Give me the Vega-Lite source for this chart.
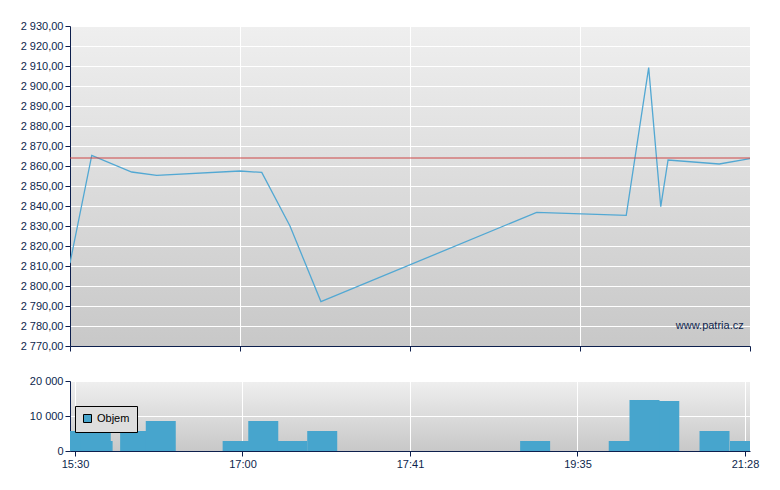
{
  "$schema": "https://vega.github.io/schema/vega-lite/v6.json",
  "autosize": {"type": "pad"},
  "padding": {"left": 20, "top": 20, "right": 30, "bottom": 10},
  "background": "white",
  "config": {
    "locale": {"number": {"decimal": ",", "thousands": " ", "grouping": [3], "currency": ["", ""]}},
    "font": "Liberation Sans",
    "view": {"stroke": null},
    "axis": {
      "labelFont": "Liberation Sans", "labelFontSize": 11, "labelColor": "#0d1f4d",
      "domainColor": "#0d1f4d", "tickColor": "#0d1f4d", "tickSize": 5, "labelPadding": 2,
      "gridColor": "#ffffff", "gridWidth": 1, "gridOpacity": 1, "title": null
    }
  },
  "datasets": {
    "price": [
      {"x": 0.0, "price": 2811.5},
      {"x": 0.128, "price": 2865.3},
      {"x": 0.363, "price": 2857.0},
      {"x": 0.51, "price": 2855.3},
      {"x": 1.0, "price": 2857.5},
      {"x": 1.128, "price": 2856.8},
      {"x": 1.294, "price": 2830.0},
      {"x": 1.476, "price": 2792.2},
      {"x": 2.745, "price": 2836.8},
      {"x": 3.272, "price": 2835.3},
      {"x": 3.404, "price": 2909.2},
      {"x": 3.475, "price": 2839.7},
      {"x": 3.518, "price": 2863.0},
      {"x": 3.819, "price": 2861.0},
      {"x": 4.0, "price": 2863.7}
    ],
    "volume": [
      {"x": 0.0, "volume": 5714, "series": "Objem"},
      {"x": 0.135, "volume": 2857, "series": "Objem"},
      {"x": 0.124, "volume": 8571, "series": "Objem"},
      {"x": 0.359, "volume": 5714, "series": "Objem"},
      {"x": 0.512, "volume": 8571, "series": "Objem"},
      {"x": 0.971, "volume": 2857, "series": "Objem"},
      {"x": 1.124, "volume": 8571, "series": "Objem"},
      {"x": 1.297, "volume": 2857, "series": "Objem"},
      {"x": 1.476, "volume": 5714, "series": "Objem"},
      {"x": 2.747, "volume": 2857, "series": "Objem"},
      {"x": 3.276, "volume": 2857, "series": "Objem"},
      {"x": 3.518, "volume": 14286, "series": "Objem"},
      {"x": 3.4, "volume": 14571, "series": "Objem"},
      {"x": 3.818, "volume": 5714, "series": "Objem"},
      {"x": 4.0, "volume": 2857, "series": "Objem"}
    ],
    "ref": [{"level": 2864}],
    "mark": [{"x": 3.963, "y": 2778.7, "label": "www.patria.cz"}]
  },
  "vconcat": [
    {
      "width": 680,
      "height": 320,
      "view": {"stroke": null, "fill": {"gradient": "linear", "x1": 0, "y1": 0, "x2": 0, "y2": 1, "stops": [{"offset": 0, "color": "#efefef"}, {"offset": 1, "color": "#c8c8c8"}]}},
      "layer": [
        {
          "data": {"name": "price"},
          "mark": {"type": "line", "color": "#52a8d3", "strokeWidth": 1.3, "clip": true},
          "encoding": {
            "x": {"field": "x", "type": "quantitative", "scale": {"domain": [0, 4], "nice": false},
              "axis": {"values": [0, 1, 2, 3, 4], "labels": false, "grid": true}},
            "y": {"field": "price", "type": "quantitative", "scale": {"domain": [2770, 2930], "nice": false, "zero": false},
              "axis": {"tickCount": 16, "format": ",.2f", "grid": true}}
          }
        },
        {
          "data": {"name": "ref"},
          "mark": {"type": "rule", "color": "#cd4646", "strokeWidth": 1},
          "encoding": {"y": {"field": "level", "type": "quantitative"}}
        },
        {
          "data": {"name": "mark"},
          "mark": {"type": "text", "align": "right", "baseline": "alphabetic", "fontSize": 11, "font": "Liberation Sans", "color": "#0d1f4d"},
          "encoding": {
            "x": {"field": "x", "type": "quantitative"},
            "y": {"field": "y", "type": "quantitative"},
            "text": {"field": "label"}
          }
        }
      ]
    },
    {
      "width": 680,
      "height": 70,
      "view": {"stroke": null, "fill": {"gradient": "linear", "x1": 0, "y1": 0, "x2": 0, "y2": 1, "stops": [{"offset": 0, "color": "#efefef"}, {"offset": 1, "color": "#c8c8c8"}]}},
      "data": {"name": "volume"},
      "mark": {"type": "bar", "width": 30, "clip": true},
      "encoding": {
        "x": {"field": "x", "type": "quantitative", "scale": {"domain": [0, 4], "nice": false},
          "axis": {"values": [0, 1, 2, 3, 4], "grid": true,
            "labelExpr": "['15:30','17:00','17:41','19:35','21:28'][datum.value]"}},
        "y": {"field": "volume", "type": "quantitative", "scale": {"domain": [0, 20000], "nice": false},
          "axis": {"values": [0, 10000, 20000], "format": ",d", "grid": true}},
        "color": {"field": "series", "type": "nominal", "scale": {"range": ["#47a5cd"]},
          "legend": {"orient": "none", "legendX": 5, "legendY": 380, "title": null,
            "strokeColor": "#000000", "fillColor": "#dedede", "padding": 7, "zindex": 2,
            "symbolType": "square", "symbolSize": 64, "symbolStrokeColor": "#000000", "symbolStrokeWidth": 1,
            "symbolFillColor": "#47a5cd",
            "labelFont": "Liberation Sans", "labelFontSize": 11, "labelColor": "#000000",
            "labelOffset": 4, "cornerRadius": 0}}
      }
    }
  ],
  "spacing": 23
}
